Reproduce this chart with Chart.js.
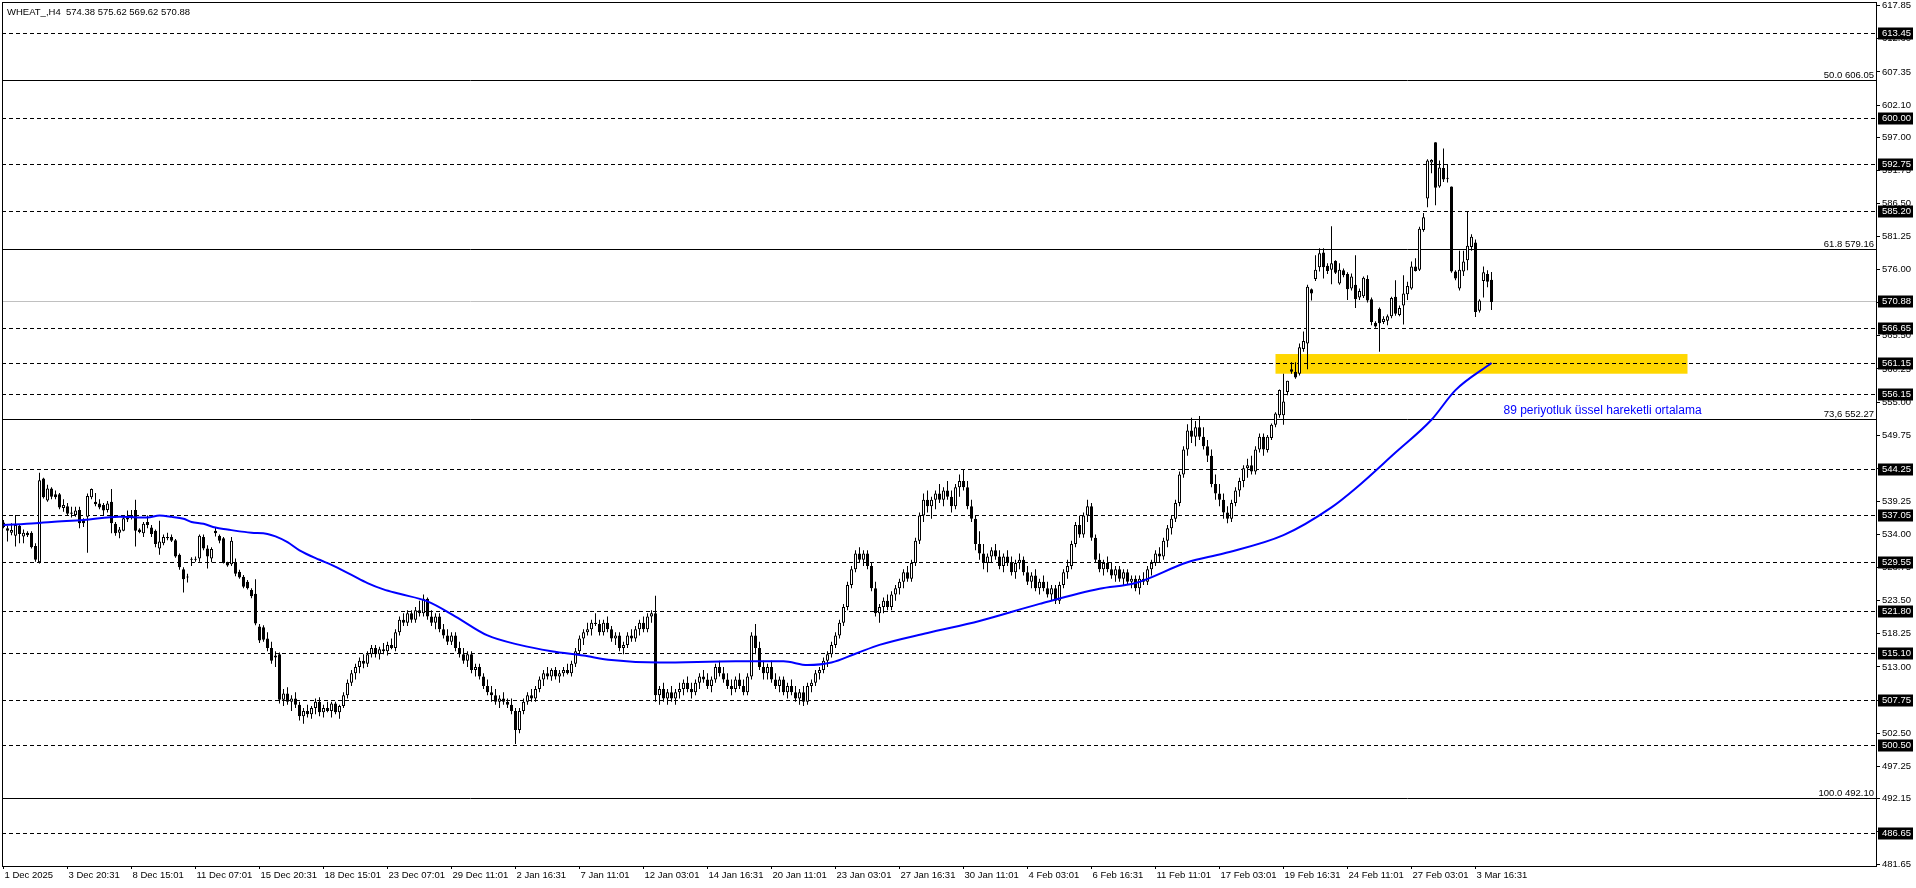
<!DOCTYPE html>
<html lang="en">
<head>
<meta charset="UTF-8">
<title>WHEAT_ H4</title>
<style>
  html, body { margin: 0; padding: 0; background: #fff; overflow: hidden; }
  canvas { display: block; }
</style>
</head>
<body>
<canvas id="chart" width="1916" height="888"></canvas>
<script src="https://cdn.jsdelivr.net/npm/chart.js"></script>
<script>
// H4 candles, one entry per bar (oldest first)
const open = [
  535.9, 535.0, 534.3, 533.8, 535.4, 533.7, 534.3, 534.3, 532.2, 529.6,
  542.9, 539.4, 541.3, 540.4, 540.4, 538.2, 538.5, 537.5, 537.1, 537.9,
  536.3, 536.8, 539.9, 539.2, 538.9, 538.7, 537.9, 539.2, 535.7, 534.3,
  534.6, 536.4, 537.1, 537.9, 534.8, 534.2, 536.0, 535.1, 534.6, 531.8,
  532.6, 533.6, 533.6, 533.1, 530.8, 528.5, 527.3, 530.1, 530.0, 530.2,
  533.6, 531.8, 530.2, 534.6, 533.8, 533.4, 529.5, 529.3, 529.5, 528.1,
  527.3, 526.5, 525.2, 524.6, 519.4, 519.3, 517.5, 516.0, 514.5, 515.0,
  507.8, 508.8, 507.5, 508.0, 507.0, 505.2, 506.0, 505.5, 506.5, 507.5,
  505.8, 506.5, 506.0, 507.2, 505.8, 506.8, 508.5, 510.5, 512.0, 513.0,
  514.0, 513.5, 515.0, 516.0, 515.0, 515.8, 515.5, 516.5, 516.0, 518.5,
  520.5, 520.0, 521.5, 520.5, 522.0, 521.5, 523.8, 521.0, 520.0, 521.0,
  519.0, 518.0, 517.0, 518.0, 516.0, 515.0, 514.0, 515.0, 512.5, 513.0,
  511.5, 510.0, 509.0, 508.5, 507.5, 508.0, 507.5, 507.0, 506.0, 503.0,
  506.0, 507.5, 508.5, 508.0, 509.5, 511.0, 512.0, 511.5, 512.5, 511.5,
  512.0, 512.5, 512.0, 513.5, 515.5, 517.5, 518.5, 519.0, 520.0, 519.8,
  518.5, 520.0, 519.0, 517.5, 518.0, 516.0, 516.5, 518.0, 517.5, 519.0,
  520.0, 519.0, 521.0, 521.5, 508.5, 509.5, 508.0, 509.0, 508.0, 509.0,
  509.5, 510.5, 509.5, 509.0, 510.5, 511.5, 511.0, 510.0, 511.0, 513.0,
  512.0, 511.0, 510.0, 509.5, 511.0, 510.0, 509.0, 511.5, 518.0, 516.0,
  513.0, 512.0, 513.0, 511.0, 510.0, 511.0, 509.0, 510.0, 509.0, 508.0,
  509.0, 507.5, 510.0, 510.5, 512.0, 512.5, 514.0, 515.0, 516.5, 518.0,
  520.0, 522.5, 526.0, 528.5, 531.0, 530.0, 531.0, 529.0, 525.5, 521.5,
  522.5, 523.5, 522.5, 524.5, 525.5, 526.5, 528.0, 527.0, 529.5, 533.0,
  537.0, 539.5, 538.5, 539.5, 540.5, 539.5, 541.0, 540.0, 538.5, 541.5,
  542.5, 541.5, 538.5, 536.5, 532.5, 531.0, 529.5, 530.5, 531.5, 530.5,
  529.0, 530.5, 529.5, 528.0, 529.5, 530.0, 528.0, 526.5, 527.5, 525.5,
  526.5, 525.5, 524.5, 525.5, 523.5, 526.0, 528.0, 529.0, 532.5, 535.5,
  534.0, 537.0, 538.5, 533.5, 530.0, 528.5, 529.5, 528.5, 527.5, 528.5,
  527.0, 528.0, 526.5, 527.0, 525.5, 527.0, 526.5, 528.5, 529.5, 531.0,
  530.5, 533.0, 535.0, 536.5, 539.0, 543.5, 547.5, 550.5, 549.5, 551.0,
  549.5, 548.0, 546.5, 542.0, 540.5, 539.5, 537.5, 536.5, 539.0, 541.0,
  542.5, 544.5, 545.0, 544.0, 547.5, 549.5, 547.4, 549.3, 551.4, 552.9,
  552.9, 556.6, 560.2, 559.8, 559.5, 563.4, 564.3, 572.9, 574.5, 576.4,
  578.7, 576.6, 576.0, 577.4, 573.8, 575.9, 575.3, 573.0, 573.6, 571.6,
  571.8, 574.5, 571.3, 567.6, 569.8, 567.7, 567.9, 568.6, 571.7, 568.8,
  570.3, 572.1, 573.0, 576.5, 576.0, 582.3, 587.3, 593.0, 596.2, 589.2,
  592.1, 590.5, 589.2, 575.7, 573.0, 575.7, 577.5, 579.6, 580.3, 569.5,
  574.2, 575.3, 574.38
];
const high = [
  536.3, 535.4, 535.8, 537.1, 535.6, 534.8, 534.5, 534.5, 532.6, 543.8,
  543.0, 541.9, 541.5, 541.0, 540.6, 539.6, 539.0, 538.4, 538.4, 538.4,
  536.6, 540.5, 541.3, 540.6, 539.6, 539.0, 539.3, 541.2, 536.0, 535.2,
  537.1, 537.8, 537.9, 539.5, 535.0, 536.0, 537.0, 535.5, 534.8, 536.2,
  534.0, 534.3, 534.0, 533.3, 531.0, 528.8, 527.8, 530.4, 530.5, 534.0,
  534.0, 532.3, 532.0, 535.2, 534.0, 533.6, 529.7, 533.6, 530.2, 528.4,
  527.6, 526.8, 525.5, 526.9, 519.8, 519.6, 518.5, 517.0, 515.5, 515.3,
  509.5, 509.8, 508.5, 509.0, 507.5, 506.5, 507.0, 506.8, 508.0, 508.2,
  507.0, 507.5, 507.5, 507.5, 507.0, 509.0, 511.0, 512.5, 513.5, 514.5,
  515.0, 515.5, 516.5, 516.5, 516.2, 516.8, 517.0, 517.5, 519.0, 521.0,
  521.5, 522.0, 522.0, 522.5, 523.5, 524.5, 524.0, 522.0, 521.5, 521.5,
  519.8, 519.0, 518.5, 518.5, 517.0, 516.0, 515.5, 515.5, 513.5, 513.5,
  512.0, 511.0, 510.0, 509.5, 508.5, 509.0, 508.0, 508.0, 506.5, 506.5,
  508.0, 509.0, 509.5, 510.0, 511.5, 512.5, 513.0, 512.8, 513.0, 512.5,
  513.0, 513.5, 514.0, 516.0, 518.0, 519.0, 520.0, 520.5, 521.5, 520.5,
  520.5, 521.0, 519.5, 518.5, 518.5, 517.0, 518.5, 519.0, 519.5, 520.5,
  521.0, 521.5, 522.0, 524.3, 510.0, 510.5, 509.5, 510.0, 509.5, 510.5,
  511.0, 511.5, 510.5, 511.0, 512.0, 512.5, 512.0, 511.5, 513.5, 514.0,
  513.0, 512.0, 511.0, 511.5, 512.0, 511.0, 512.0, 518.5, 519.8, 517.0,
  514.0, 513.5, 514.0, 512.0, 511.5, 511.5, 510.5, 511.0, 510.0, 509.5,
  510.0, 510.5, 511.0, 512.5, 513.0, 514.5, 515.5, 517.0, 518.5, 520.5,
  523.0, 526.5, 529.0, 531.5, 532.0, 531.5, 531.5, 529.5, 526.5, 523.0,
  524.0, 524.5, 525.0, 526.0, 527.0, 528.5, 529.0, 530.0, 533.5, 537.5,
  540.5, 541.0, 540.0, 541.0, 542.0, 541.5, 542.5, 541.0, 542.0, 543.5,
  544.3, 542.5, 539.5, 537.0, 534.5, 532.5, 531.0, 532.0, 532.5, 531.5,
  531.0, 531.5, 530.5, 530.0, 531.0, 530.5, 529.0, 528.0, 528.5, 527.0,
  527.5, 526.5, 526.0, 526.0, 526.5, 528.5, 530.0, 533.0, 536.0, 537.0,
  537.5, 539.5, 539.0, 534.0, 531.0, 530.0, 530.5, 529.5, 529.0, 529.0,
  528.5, 528.5, 527.5, 527.5, 527.5, 528.0, 529.0, 530.0, 531.5, 532.0,
  533.5, 535.5, 537.0, 539.5, 544.0, 548.0, 551.5, 552.5, 552.0, 552.8,
  551.0, 549.0, 547.5, 543.5, 542.0, 540.5, 538.5, 539.5, 541.5, 543.0,
  545.0, 546.0, 546.5, 548.0, 550.0, 550.0, 549.8, 551.6, 553.4, 557.0,
  559.5, 558.4, 561.3, 561.3, 564.3, 566.2, 573.6, 573.0, 578.3, 579.4,
  579.4, 577.0, 582.9, 577.5, 577.0, 576.2, 575.6, 575.4, 578.3, 573.0,
  574.9, 575.1, 571.6, 567.8, 570.0, 568.6, 568.9, 571.7, 574.3, 570.3,
  575.1, 574.1, 577.3, 577.8, 582.8, 585.0, 593.5, 593.5, 596.2, 593.3,
  595.2, 592.7, 589.2, 575.9, 579.0, 579.0, 585.3, 581.6, 580.8, 571.3,
  576.5, 575.9, 575.62
];
const low = [
  535.0, 532.9, 533.9, 532.1, 532.6, 532.6, 533.6, 531.8, 529.7, 529.4,
  539.7, 539.2, 539.6, 539.6, 538.0, 537.6, 537.0, 536.7, 536.8, 535.0,
  535.2, 531.1, 539.6, 538.5, 538.0, 537.1, 537.5, 534.2, 533.8, 533.4,
  534.5, 536.0, 536.4, 532.1, 534.2, 533.6, 535.0, 533.6, 532.0, 530.8,
  532.3, 533.1, 532.8, 530.3, 528.4, 524.8, 526.4, 529.0, 529.7, 529.7,
  531.5, 528.6, 529.6, 533.7, 532.6, 529.4, 528.9, 529.0, 527.4, 527.0,
  525.5, 525.3, 523.9, 519.6, 516.8, 517.0, 515.5, 513.5, 513.0, 507.2,
  506.8, 507.0, 506.0, 506.5, 504.5, 504.0, 505.0, 504.8, 505.5, 505.2,
  505.0, 505.8, 505.0, 505.5, 504.8, 506.5, 508.0, 510.0, 511.0, 512.0,
  512.8, 513.0, 514.5, 514.5, 514.2, 515.0, 514.8, 515.8, 515.5, 518.0,
  519.5, 519.5, 520.0, 520.0, 521.0, 521.0, 520.5, 519.5, 519.0, 518.5,
  517.5, 516.5, 516.5, 515.5, 514.5, 513.5, 513.0, 512.0, 511.5, 511.0,
  509.5, 508.5, 507.5, 507.0, 506.5, 507.0, 506.5, 505.5, 500.8, 502.5,
  505.5, 507.0, 507.5, 507.5, 509.0, 510.0, 511.0, 510.8, 511.0, 510.5,
  511.5, 511.8, 511.5, 513.0, 515.0, 516.5, 518.0, 518.0, 519.5, 518.0,
  518.0, 518.5, 517.0, 516.5, 515.5, 515.0, 516.0, 517.0, 517.0, 518.0,
  518.5, 518.5, 520.0, 507.5, 507.0, 507.5, 507.0, 507.5, 507.0, 508.0,
  508.5, 509.0, 508.0, 508.5, 509.5, 510.5, 509.5, 509.0, 510.5, 511.5,
  510.5, 509.5, 508.5, 509.0, 509.5, 508.5, 508.5, 511.0, 515.0, 512.5,
  511.0, 511.0, 510.5, 509.5, 509.0, 508.5, 508.0, 508.5, 507.5, 507.0,
  506.8, 507.0, 509.0, 510.0, 511.0, 512.0, 513.0, 514.5, 516.0, 517.5,
  519.5, 522.0, 525.5, 528.0, 529.5, 529.0, 528.5, 525.0, 521.0, 520.0,
  521.5, 522.0, 522.0, 523.5, 524.5, 525.5, 526.5, 526.5, 529.0, 532.5,
  536.0, 537.5, 536.5, 538.0, 539.0, 538.5, 539.5, 537.5, 538.0, 540.0,
  541.0, 538.0, 536.0, 531.5, 530.0, 528.5, 528.0, 529.5, 530.0, 528.5,
  528.0, 529.0, 527.5, 527.0, 528.5, 527.5, 526.0, 525.5, 525.0, 524.5,
  525.0, 524.0, 523.5, 523.0, 523.0, 525.5, 527.0, 528.5, 532.0, 533.5,
  533.5, 536.0, 533.0, 529.5, 528.0, 527.5, 528.0, 527.0, 526.5, 526.5,
  526.0, 526.0, 525.5, 525.0, 524.5, 526.0, 526.0, 527.5, 529.0, 529.5,
  530.0, 532.0, 534.0, 536.0, 538.5, 543.0, 546.5, 548.5, 548.0, 549.0,
  547.5, 545.5, 541.5, 539.5, 538.5, 536.5, 535.8, 536.0, 538.5, 540.0,
  541.5, 543.0, 543.5, 543.5, 547.0, 546.5, 547.0, 549.0, 551.0, 552.5,
  551.4, 556.1, 559.5, 558.7, 559.2, 563.0, 560.2, 571.1, 574.2, 575.7,
  574.6, 575.3, 573.7, 575.3, 573.6, 574.8, 571.2, 572.7, 569.9, 571.2,
  571.5, 570.8, 567.2, 566.8, 563.0, 567.4, 567.2, 568.3, 568.7, 568.6,
  567.3, 571.2, 572.8, 575.7, 575.8, 582.0, 585.9, 591.3, 586.2, 589.0,
  589.9, 589.8, 575.5, 574.3, 572.7, 575.0, 575.9, 579.0, 568.5, 569.2,
  571.6, 573.2, 569.62
];
const close = [
  535.2, 534.6, 534.7, 535.5, 534.1, 534.3, 533.9, 532.0, 530.0, 542.6,
  539.9, 541.3, 540.0, 539.9, 538.3, 538.7, 537.3, 537.3, 537.8, 535.8,
  535.8, 540.1, 541.2, 538.8, 538.3, 537.8, 538.9, 535.8, 534.2, 534.8,
  536.6, 536.7, 536.7, 534.6, 534.4, 535.7, 535.5, 534.1, 532.5, 532.9,
  533.6, 533.4, 533.0, 530.5, 528.8, 526.9, 527.2, 530.0, 530.1, 533.8,
  531.8, 530.5, 531.7, 534.2, 533.0, 529.5, 529.1, 533.0, 527.8, 527.2,
  525.7, 525.5, 524.2, 519.9, 517.2, 517.3, 516.0, 514.0, 514.8, 507.8,
  508.8, 507.5, 508.0, 507.0, 505.2, 506.0, 505.5, 506.5, 507.5, 505.8,
  506.5, 506.0, 507.2, 505.8, 506.8, 508.5, 510.5, 512.0, 513.0, 514.0,
  513.5, 515.0, 516.0, 515.0, 515.8, 515.5, 516.5, 516.0, 518.5, 520.5,
  520.0, 521.5, 520.5, 522.0, 521.5, 523.8, 521.0, 520.0, 521.0, 519.0,
  518.0, 517.0, 518.0, 516.0, 515.0, 514.0, 515.0, 512.5, 513.0, 511.5,
  510.0, 509.0, 508.5, 507.5, 508.0, 507.5, 507.0, 506.0, 503.0, 506.0,
  507.5, 508.5, 508.0, 509.5, 511.0, 512.0, 511.5, 512.5, 511.5, 512.0,
  512.5, 512.0, 513.5, 515.5, 517.5, 518.5, 519.0, 520.0, 519.8, 518.5,
  520.0, 519.0, 517.5, 518.0, 516.0, 516.5, 518.0, 517.5, 519.0, 520.0,
  519.0, 521.0, 521.5, 508.5, 509.5, 508.0, 509.0, 508.0, 509.0, 509.5,
  510.5, 509.5, 509.0, 510.5, 511.5, 511.0, 510.0, 511.0, 513.0, 512.0,
  511.0, 510.0, 509.5, 511.0, 510.0, 509.0, 511.5, 518.0, 516.0, 513.0,
  512.0, 513.0, 511.0, 510.0, 511.0, 509.0, 510.0, 509.0, 508.0, 509.0,
  507.5, 510.0, 510.5, 512.0, 512.5, 514.0, 515.0, 516.5, 518.0, 520.0,
  522.5, 526.0, 528.5, 531.0, 530.0, 531.0, 529.0, 525.5, 521.5, 522.5,
  523.5, 522.5, 524.5, 525.5, 526.5, 528.0, 527.0, 529.5, 533.0, 537.0,
  539.5, 538.5, 539.5, 540.5, 539.5, 541.0, 540.0, 538.5, 541.5, 542.5,
  541.5, 538.5, 536.5, 532.5, 531.0, 529.5, 530.5, 531.5, 530.5, 529.0,
  530.5, 529.5, 528.0, 529.5, 530.0, 528.0, 526.5, 527.5, 525.5, 526.5,
  525.5, 524.5, 525.5, 523.5, 526.0, 528.0, 529.0, 532.5, 535.5, 534.0,
  537.0, 538.5, 533.5, 530.0, 528.5, 529.5, 528.5, 527.5, 528.5, 527.0,
  528.0, 526.5, 527.0, 525.5, 527.0, 526.5, 528.5, 529.5, 531.0, 530.5,
  533.0, 535.0, 536.5, 539.0, 543.5, 547.5, 550.5, 549.5, 551.0, 549.5,
  548.0, 546.5, 542.0, 540.5, 539.5, 537.5, 536.5, 539.0, 541.0, 542.5,
  544.5, 545.0, 544.0, 547.5, 549.5, 547.5, 549.5, 551.4, 553.2, 556.9,
  555.1, 558.4, 559.8, 558.9, 563.7, 564.7, 573.3, 572.2, 576.0, 578.6,
  576.4, 575.8, 577.0, 575.5, 576.0, 575.1, 572.9, 574.9, 571.3, 572.6,
  574.7, 571.1, 567.7, 567.0, 567.5, 568.2, 568.6, 571.5, 569.0, 569.9,
  572.2, 573.4, 576.5, 575.8, 582.5, 584.3, 593.3, 593.4, 589.0, 592.2,
  590.3, 590.4, 575.7, 574.6, 576.0, 577.3, 579.8, 581.2, 569.3, 571.1,
  575.6, 574.1, 570.88
];

// 89-period EMA at these bars
const emaBars = [0, 8, 12, 20, 29, 36, 39, 42, 45, 47, 50, 53, 56, 59, 62, 66, 68, 71, 74, 79,
  82, 87, 91, 95, 99, 106, 113, 121, 129, 137, 145, 152, 164, 183, 195, 201, 207, 213, 219, 231,
  244, 259, 274, 283, 296, 305, 320, 332, 338, 348, 357, 363, 372];
const emaValues = [535.5, 535.8, 536.0, 536.3, 536.8, 536.7, 537.0, 536.8, 536.5, 536.0, 535.7, 535.1, 534.8, 534.5, 534.3, 534.1, 533.7, 532.8, 531.5, 530.0,
  529.2, 527.6, 526.3, 525.3, 524.6, 523.4, 521.0, 518.0, 516.5, 515.5, 514.8, 514.1, 513.7, 513.9, 513.9, 513.3, 513.7, 515.1, 516.5, 518.4,
  520.3, 523.0, 525.4, 526.3, 529.6, 531.0, 533.9, 538.3, 541.3, 547.0, 552.2, 556.9, 561.2];

// bottom time axis: one label every 16 bars
const timeLabels = ['1 Dec 2025', '3 Dec 20:31', '8 Dec 15:01', '11 Dec 07:01', '15 Dec 20:31', '18 Dec 15:01',
  '23 Dec 07:01', '29 Dec 11:01', '2 Jan 16:31', '7 Jan 11:01', '12 Jan 03:01', '14 Jan 16:31', '20 Jan 11:01',
  '23 Jan 03:01', '27 Jan 16:31', '30 Jan 11:01', '4 Feb 03:01', '6 Feb 16:31', '11 Feb 11:01', '17 Feb 03:01',
  '19 Feb 16:31', '24 Feb 11:01', '27 Feb 03:01', '3 Mar 16:31'];
const labelStep = 16;

// right price axis
const priceTicks = [617.85, 612.60, 607.35, 602.10, 597.00, 591.75, 586.50, 581.25, 576.00, 570.75, 565.50,
  560.25, 555.00, 549.75, 544.50, 539.25, 534.00, 528.75, 523.50, 518.25, 513.00, 507.75, 502.50, 497.25,
  492.15, 486.90, 481.65];

// drawn objects
const dashedLevels = [613.45, 600.00, 592.75, 585.20, 566.65, 561.15, 556.15, 544.25, 537.05, 529.55,
  521.80, 515.10, 507.75, 500.50, 486.65];
const fibLevels = [606.05, 579.16, 552.27, 492.10];
const fibNames = ['50.0', '61.8', '73,6', '100.0'];
const bidPrice = 570.88;
const zoneBars = [318, 421];
const zonePrices = [559.5, 562.62];
const emaNote = '89 periyotluk üssel hareketli ortalama';
const emaNoteAt = [375, 553.6];
const title = 'WHEAT_,H4  574.38 575.62 569.62 570.88';

const FONT = '"Liberation Sans", Arial, sans-serif';

const wickData = open.map((o, i) => ({ x: i, y: [low[i], high[i]] }));
const bodyData = open.map((o, i) => ({ x: i, y: [o, close[i]] }));
const emaData = emaBars.map((b, i) => ({ x: b, y: emaValues[i] }));

const drawings = {
  id: 'drawings',
  beforeDatasetsDraw(chart) {
    const { ctx, chartArea: a, scales: { x, y } } = chart;
    ctx.save();
    ctx.beginPath();
    ctx.rect(a.left, a.top, a.right - a.left, a.bottom - a.top);
    ctx.clip();

    const zl = x.getPixelForValue(zoneBars[0]), zr = x.getPixelForValue(zoneBars[1]);
    const zt = y.getPixelForValue(zonePrices[1]), zb = y.getPixelForValue(zonePrices[0]);
    ctx.fillStyle = '#ffd700';
    ctx.fillRect(zl, zt, zr - zl, zb - zt);

    ctx.lineWidth = 1;
    const hline = (p, color, dash) => {
      const py = Math.floor(y.getPixelForValue(p)) + 0.5;
      ctx.strokeStyle = color;
      ctx.setLineDash(dash);
      ctx.beginPath();
      ctx.moveTo(a.left, py);
      ctx.lineTo(a.right, py);
      ctx.stroke();
    };
    hline(bidPrice, '#c0c0c0', []);
    fibLevels.forEach(p => hline(p, '#000', []));
    dashedLevels.forEach(p => hline(p, '#000', [4, 3]));
    ctx.restore();
  },
  afterDraw(chart) {
    const { ctx, chartArea: a, scales: { x, y } } = chart;
    ctx.save();
    // frame
    ctx.strokeStyle = '#000';
    ctx.lineWidth = 1;
    ctx.strokeRect(Math.floor(a.left) + 0.5, Math.floor(a.top) + 0.5,
      Math.round(a.right - a.left), Math.round(a.bottom - a.top));

    // symbol header
    ctx.fillStyle = '#000';
    ctx.font = '9.5px ' + FONT;
    ctx.textBaseline = 'middle';
    ctx.textAlign = 'left';
    ctx.fillText(title, a.left + 5, a.top + 10);

    // fibo level captions
    ctx.textAlign = 'right';
    ctx.textBaseline = 'alphabetic';
    fibLevels.forEach((p, i) => {
      ctx.fillText(fibNames[i] + ' ' + p.toFixed(2), a.right - 2, Math.floor(y.getPixelForValue(p)) - 2);
    });

    // EMA caption
    ctx.fillStyle = '#0000ff';
    ctx.font = '12px ' + FONT;
    ctx.textAlign = 'left';
    ctx.textBaseline = 'middle';
    ctx.fillText(emaNote, x.getPixelForValue(emaNoteAt[0]), y.getPixelForValue(emaNoteAt[1]));

    // price boxes on the axis
    ctx.font = '9.5px ' + FONT;
    [...dashedLevels, bidPrice].forEach(p => {
      const py = Math.floor(y.getPixelForValue(p)) + 0.5;
      ctx.fillStyle = '#000';
      ctx.fillRect(a.right + 2, py - 6, 35, 12);
      ctx.fillStyle = '#fff';
      ctx.fillText(p.toFixed(2), a.right + 6, py);
    });
    ctx.restore();
  }
};

new Chart(document.getElementById('chart'), {
  type: 'bar',
  data: {
    datasets: [
      {
        type: 'line',
        data: emaData,
        borderColor: '#0000ff',
        borderWidth: 2,
        pointRadius: 0,
        cubicInterpolationMode: 'monotone',
        order: 0
      },
      {
        data: bodyData,
        barThickness: 3,
        minBarLength: 1,
        grouped: false,
        borderSkipped: false,
        inflateAmount: 0,
        borderWidth: 1,
        borderColor: '#000',
        backgroundColor: ctx => close[ctx.dataIndex] >= open[ctx.dataIndex] ? '#fff' : '#000',
        order: 1
      },
      {
        data: wickData,
        barThickness: 1,
        grouped: false,
        borderSkipped: false,
        inflateAmount: 0,
        borderWidth: 0,
        backgroundColor: '#000',
        order: 2
      }
    ]
  },
  options: {
    responsive: false,
    devicePixelRatio: 1,
    animation: false,
    layout: { padding: { left: 2, top: 2, right: 0, bottom: 0 } },
    plugins: { legend: { display: false }, tooltip: { enabled: false } },
    scales: {
      x: {
        type: 'linear',
        offset: false,
        min: -0.375,
        max: 468.125,
        border: { display: false },
        grid: { drawOnChartArea: false, drawTicks: true, tickLength: 3, color: '#000', offset: false },
        ticks: {
          color: '#000',
          font: { family: FONT, size: 9.5 },
          align: 'start',
          labelOffset: 1,
          padding: 1,
          maxRotation: 0,
          autoSkip: false,
          callback: v => timeLabels[Math.round(v / labelStep)]
        },
        afterBuildTicks: s => { s.ticks = timeLabels.map((t, k) => ({ value: k * labelStep })); },
        afterFit: s => { s.height = 22; s.paddingLeft = 0; s.paddingRight = 0; }
      },
      y: {
        position: 'right',
        min: 481.44,
        max: 618.44,
        border: { display: false },
        grid: { drawOnChartArea: false, drawTicks: true, tickLength: 4, color: '#000' },
        ticks: {
          color: '#000',
          font: { family: FONT, size: 9.5 },
          padding: 2,
          callback: v => v.toFixed(2)
        },
        afterBuildTicks: s => { s.ticks = priceTicks.map(v => ({ value: v })); },
        afterFit: s => { s.width = 40; s.paddingTop = 0; s.paddingBottom = 0; }
      }
    }
  },
  plugins: [drawings]
});
</script>
</body>
</html>
